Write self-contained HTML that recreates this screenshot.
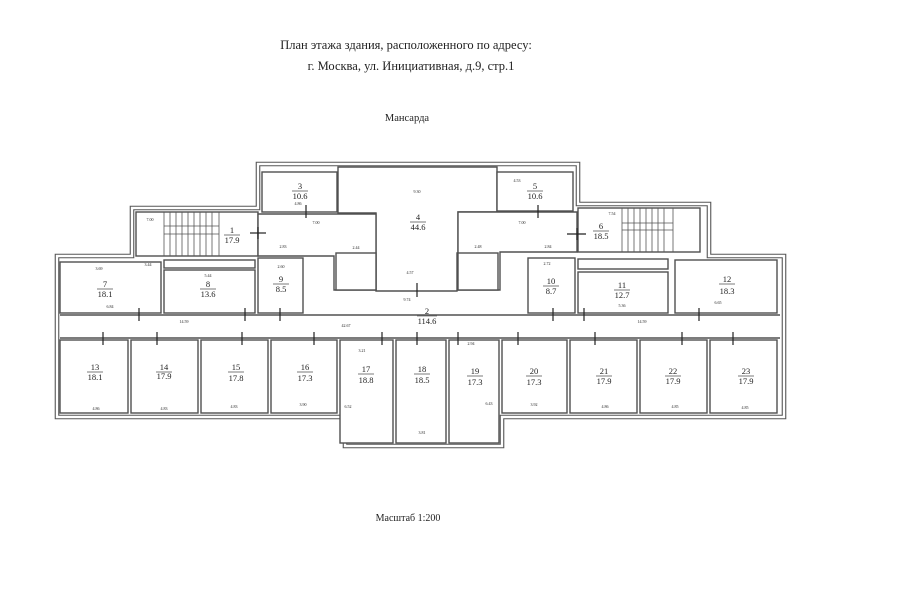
<!DOCTYPE html>
<html><head><meta charset="utf-8"><style>
body{margin:0;background:#fff;}
svg{display:block;}
text{font-family:"Liberation Serif","DejaVu Serif",serif;fill:#222;}
.r{fill:#fff;stroke:#505050;stroke-width:1.4;}
.s{stroke:#555;stroke-width:0.8;}
.n{font-size:8.5px;text-anchor:middle;}
.d{font-size:4px;fill:#555;text-anchor:middle;}
</style></head><body>
<svg width="900" height="604" viewBox="0 0 900 604" xmlns="http://www.w3.org/2000/svg">
<rect width="900" height="604" fill="#fff"/>
<text x="406" y="49" font-size="12.5" text-anchor="middle">План этажа здания, расположенного по адресу:</text>
<text x="411" y="70" font-size="12.5" text-anchor="middle">г. Москва, ул. Инициативная, д.9, стр.1</text>
<text x="407" y="121" font-size="10.5" text-anchor="middle">Мансарда</text>
<text x="408" y="521" font-size="10" text-anchor="middle">Масштаб 1:200</text>

<g fill="none">
<polygon points="57,256 132,256 132,208 258,208 258,164 578,164 578,204 709,204 709,256 784,256 784,417 502,417 502,446 345,446 345,417 57,417" stroke="#555" stroke-width="4.6"/>
<polygon points="57,256 132,256 132,208 258,208 258,164 578,164 578,204 709,204 709,256 784,256 784,417 502,417 502,446 345,446 345,417 57,417" stroke="#fff" stroke-width="2.4"/>
</g>

<rect class="r" x="262" y="172" width="75" height="40"/>
<path class="r" d="M338,167 H497 V212 H458 V253 H457 V291 H376 V253 H376 V213 H338 Z"/>
<rect class="r" x="497" y="172" width="76" height="39"/>
<rect class="r" x="136" y="212" width="122" height="44"/>
<g class="s">
<line x1="164" y1="212" x2="164" y2="256"/><line x1="219" y1="212" x2="219" y2="256"/>
<line x1="164" y1="234" x2="219" y2="234"/><line x1="164" y1="226" x2="219" y2="226"/>
<line x1="170" y1="212" x2="170" y2="256"/><line x1="176" y1="212" x2="176" y2="256"/><line x1="182" y1="212" x2="182" y2="256"/><line x1="188" y1="212" x2="188" y2="256"/><line x1="194" y1="212" x2="194" y2="256"/><line x1="200" y1="212" x2="200" y2="256"/><line x1="206" y1="212" x2="206" y2="256"/><line x1="212" y1="212" x2="212" y2="256"/>
</g>
<path class="r" d="M258,214 H376 V290 H334 V256 H258 Z" fill="none"/>
<rect class="r" x="336" y="253" width="40" height="37"/>
<path class="r" d="M458,212 H577 V252 H500 V290 H458 Z"/>
<rect class="r" x="458" y="253" width="40" height="37"/>
<rect class="r" x="578" y="208" width="122" height="44"/>
<g class="s">
<line x1="622" y1="208" x2="622" y2="252"/><line x1="673" y1="208" x2="673" y2="252"/>
<line x1="622" y1="223" x2="673" y2="223"/><line x1="622" y1="230" x2="673" y2="230"/>
<line x1="628" y1="208" x2="628" y2="252"/><line x1="634" y1="208" x2="634" y2="252"/><line x1="640" y1="208" x2="640" y2="252"/><line x1="646" y1="208" x2="646" y2="252"/><line x1="652" y1="208" x2="652" y2="252"/><line x1="658" y1="208" x2="658" y2="252"/><line x1="664" y1="208" x2="664" y2="252"/>
</g>
<rect class="r" x="60" y="262" width="101" height="51"/>
<rect class="r" x="164" y="260" width="91" height="8"/>
<rect class="r" x="164" y="270" width="91" height="43"/>
<rect class="r" x="258" y="258" width="45" height="55"/>
<rect class="r" x="528" y="258" width="47" height="55"/>
<rect class="r" x="578" y="259" width="90" height="10"/>
<rect class="r" x="578" y="272" width="90" height="41"/>
<rect class="r" x="675" y="260" width="102" height="53"/>
<line x1="60" y1="315" x2="780" y2="315" stroke="#505050" stroke-width="1.6"/>
<line x1="60" y1="338" x2="780" y2="338" stroke="#505050" stroke-width="1.6"/>
<rect class="r" x="60" y="340" width="68" height="73"/>
<rect class="r" x="131" y="340" width="67" height="73"/>
<rect class="r" x="201" y="340" width="67" height="73"/>
<rect class="r" x="271" y="340" width="66" height="73"/>
<rect class="r" x="340" y="340" width="53" height="103"/>
<rect class="r" x="396" y="340" width="50" height="103"/>
<rect class="r" x="449" y="340" width="50" height="103"/>
<rect class="r" x="502" y="340" width="65" height="73"/>
<rect class="r" x="570" y="340" width="67" height="73"/>
<rect class="r" x="640" y="340" width="67" height="73"/>
<rect class="r" x="710" y="340" width="67" height="73"/>

<g stroke="#222" stroke-width="1.2">
<line x1="306" y1="205" x2="306" y2="218"/><line x1="538" y1="205" x2="538" y2="218"/>
<line x1="250" y1="233" x2="266" y2="233"/><line x1="258" y1="227" x2="258" y2="239"/>
<line x1="567" y1="234" x2="586" y2="234"/><line x1="577" y1="228" x2="577" y2="240"/>
<line x1="417" y1="283" x2="417" y2="297"/>
<line x1="139" y1="308" x2="139" y2="321"/><line x1="245" y1="308" x2="245" y2="321"/><line x1="280" y1="308" x2="280" y2="321"/>
<line x1="553" y1="308" x2="553" y2="321"/><line x1="584" y1="308" x2="584" y2="321"/><line x1="699" y1="308" x2="699" y2="321"/>
<line x1="103" y1="332" x2="103" y2="345"/><line x1="157" y1="332" x2="157" y2="345"/><line x1="242" y1="332" x2="242" y2="345"/><line x1="314" y1="332" x2="314" y2="345"/><line x1="382" y1="332" x2="382" y2="345"/><line x1="417" y1="332" x2="417" y2="345"/><line x1="458" y1="332" x2="458" y2="345"/>
<line x1="518" y1="332" x2="518" y2="345"/><line x1="595" y1="332" x2="595" y2="345"/><line x1="682" y1="332" x2="682" y2="345"/><line x1="733" y1="332" x2="733" y2="345"/>
</g>

<g class="n">
<text x="300" y="189">3</text><line x1="292" y1="191" x2="308" y2="191" stroke="#222" stroke-width=".6"/><text x="300" y="199">10.6</text>
<text x="418" y="220">4</text><line x1="410" y1="222" x2="426" y2="222" stroke="#222" stroke-width=".6"/><text x="418" y="230">44.6</text>
<text x="535" y="189">5</text><line x1="527" y1="191" x2="543" y2="191" stroke="#222" stroke-width=".6"/><text x="535" y="199">10.6</text>
<text x="232" y="233">1</text><line x1="224" y1="235" x2="240" y2="235" stroke="#222" stroke-width=".6"/><text x="232" y="243">17.9</text>
<text x="601" y="229">6</text><line x1="593" y1="231" x2="609" y2="231" stroke="#222" stroke-width=".6"/><text x="601" y="239">18.5</text>
<text x="105" y="287">7</text><line x1="97" y1="289" x2="113" y2="289" stroke="#222" stroke-width=".6"/><text x="105" y="297">18.1</text>
<text x="208" y="287">8</text><line x1="200" y1="289" x2="216" y2="289" stroke="#222" stroke-width=".6"/><text x="208" y="297">13.6</text>
<text x="281" y="282">9</text><line x1="273" y1="284" x2="289" y2="284" stroke="#222" stroke-width=".6"/><text x="281" y="292">8.5</text>
<text x="551" y="284">10</text><line x1="543" y1="286" x2="559" y2="286" stroke="#222" stroke-width=".6"/><text x="551" y="294">8.7</text>
<text x="622" y="288">11</text><line x1="614" y1="290" x2="630" y2="290" stroke="#222" stroke-width=".6"/><text x="622" y="298">12.7</text>
<text x="727" y="282">12</text><line x1="719" y1="284" x2="735" y2="284" stroke="#222" stroke-width=".6"/><text x="727" y="294">18.3</text>
<text x="427" y="314">2</text><line x1="417" y1="316" x2="437" y2="316" stroke="#222" stroke-width=".6"/><text x="427" y="324">114.6</text>
<text x="95" y="370">13</text><line x1="87" y1="372" x2="103" y2="372" stroke="#222" stroke-width=".6"/><text x="95" y="380">18.1</text>
<text x="164" y="370">14</text><line x1="156" y1="372" x2="172" y2="372" stroke="#222" stroke-width=".6"/><text x="164" y="379">17.9</text>
<text x="236" y="370">15</text><line x1="228" y1="372" x2="244" y2="372" stroke="#222" stroke-width=".6"/><text x="236" y="381">17.8</text>
<text x="305" y="370">16</text><line x1="297" y1="372" x2="313" y2="372" stroke="#222" stroke-width=".6"/><text x="305" y="381">17.3</text>
<text x="366" y="372">17</text><line x1="358" y1="374" x2="374" y2="374" stroke="#222" stroke-width=".6"/><text x="366" y="383">18.8</text>
<text x="422" y="372">18</text><line x1="414" y1="374" x2="430" y2="374" stroke="#222" stroke-width=".6"/><text x="422" y="383">18.5</text>
<text x="475" y="374">19</text><line x1="467" y1="376" x2="483" y2="376" stroke="#222" stroke-width=".6"/><text x="475" y="385">17.3</text>
<text x="534" y="374">20</text><line x1="526" y1="376" x2="542" y2="376" stroke="#222" stroke-width=".6"/><text x="534" y="385">17.3</text>
<text x="604" y="374">21</text><line x1="596" y1="376" x2="612" y2="376" stroke="#222" stroke-width=".6"/><text x="604" y="384">17.9</text>
<text x="673" y="374">22</text><line x1="665" y1="376" x2="681" y2="376" stroke="#222" stroke-width=".6"/><text x="673" y="384">17.9</text>
<text x="746" y="374">23</text><line x1="738" y1="376" x2="754" y2="376" stroke="#222" stroke-width=".6"/><text x="746" y="384">17.9</text>
</g>
<g class="d">
<text x="298" y="205">4.86</text><text x="417" y="193">9.30</text><text x="517" y="182">4.53</text>
<text x="150" y="221">7.00</text><text x="316" y="224">7.00</text><text x="522" y="224">7.00</text><text x="612" y="215">7.54</text>
<text x="99" y="270">3.69</text><text x="148" y="266">3.44</text><text x="208" y="277">5.44</text><text x="281" y="268">2.60</text>
<text x="283" y="248">2.83</text><text x="356" y="249">2.44</text><text x="478" y="248">2.48</text><text x="548" y="248">2.84</text>
<text x="110" y="308">6.84</text><text x="547" y="265">2.72</text><text x="622" y="307">5.36</text><text x="718" y="304">6.65</text>
<text x="410" y="274">4.57</text><text x="407" y="301">9.74</text>
<text x="184" y="323">14.59</text><text x="346" y="327">42.67</text><text x="642" y="323">14.59</text>
<text x="362" y="352">3.21</text><text x="471" y="345">2.94</text>
<text x="96" y="410">4.86</text><text x="164" y="410">4.83</text><text x="234" y="408">4.83</text><text x="303" y="406">3.90</text>
<text x="534" y="406">3.92</text><text x="605" y="408">4.86</text><text x="675" y="408">4.85</text><text x="745" y="409">4.85</text>
<text x="422" y="434">3.81</text><text x="348" y="408">6.52</text><text x="489" y="405">6.43</text>
</g>
</svg>
</body></html>
